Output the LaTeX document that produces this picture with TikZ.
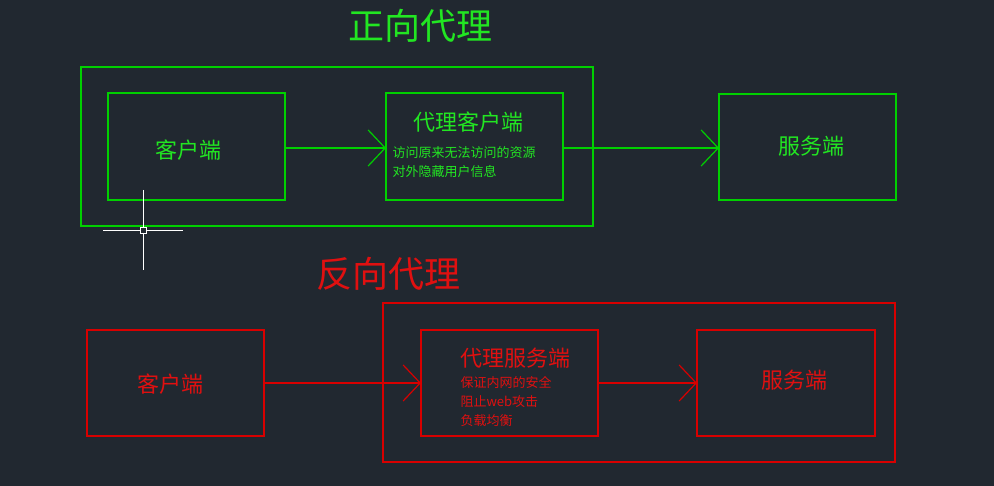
\documentclass[tikz,border=0pt]{standalone}
\usepackage{fontspec}
\setmainfont{Noto Sans CJK SC}
\usetikzlibrary{arrows.meta}
\definecolor{bg}{HTML}{212830}
\definecolor{gl}{HTML}{00D000}
\definecolor{gt}{HTML}{22E622}
\definecolor{rl}{HTML}{D80000}
\definecolor{rt}{HTML}{E01010}
\begin{document}
\begin{tikzpicture}[x=1pt,y=-1pt,
  box/.style={draw,line width=1.2pt},
  arr/.style={line width=1.2pt,-{Straight Barb[length=17pt,width=36pt,line width=1.2pt]}},
  big/.style={font=\fontsize{22}{24}\selectfont},
  ttl/.style={font=\fontsize{36}{38}\selectfont},
  sm/.style={font=\fontsize{13}{18}\selectfont,anchor=west}]
\fill[bg] (0,0) rectangle (994,486);
\useasboundingbox (0,0) rectangle (994,486);
% forward
\begin{scope}[gl]
\node[ttl,text=gt] (t1) at (420,26) {正向代理};
\draw[box] (81,67) rectangle (593,226);
\draw[box] (108,93) rectangle (285,200);
\draw[box] (386,93) rectangle (563,200);
\draw[box] (719,94) rectangle (896,200);
\coordinate (a1) at (285,148); \coordinate (b1) at (386,148);
\coordinate (a2) at (563,148); \coordinate (b2) at (719,148);
\draw[arr] (a1) -- (b1);
\draw[arr] (a2) -- (b2);
\node[big,text=gt] (c1) at (188,150) {客户端};
\node[big,text=gt] (p1) at (468,122) {代理客户端};
\node[sm,text=gt] (p1a) at (389,153) {访问原来无法访问的资源};
\node[sm,text=gt] (p1b) at (389,172) {对外隐藏用户信息};
\node[big,text=gt] (s1) at (811,146) {服务端};
\end{scope}
% cursor
\draw[white,line width=0.8pt] (103,230) -- (183,230) (143,190) -- (143,270);
\draw[white,fill=bg,line width=0.8pt] (140,227) rectangle (146,233);
% reverse
\begin{scope}[rl]
\node[ttl,text=rt] (t2) at (388,274) {反向代理};
\draw[box] (383,303) rectangle (895,462);
\draw[box] (87,330) rectangle (264,436);
\draw[box] (421,330) rectangle (598,436);
\draw[box] (697,330) rectangle (875,436);
\coordinate (a3) at (264,383); \coordinate (b3) at (421,383);
\coordinate (a4) at (598,383); \coordinate (b4) at (697,383);
\draw[arr] (a3) -- (b3);
\draw[arr] (a4) -- (b4);
\node[big,text=rt] (c2) at (170,384) {客户端};
\node[big,text=rt] (p2) at (515,358) {代理服务端};
\node[sm,text=rt] (p2a) at (457,383) {保证内网的安全};
\node[sm,text=rt] (p2b) at (457,402) {阻止web攻击};
\node[sm,text=rt] (p2c) at (457,421) {负载均衡};
\node[big,text=rt] (s2) at (794,380) {服务端};
\end{scope}
\end{tikzpicture}
\end{document}
